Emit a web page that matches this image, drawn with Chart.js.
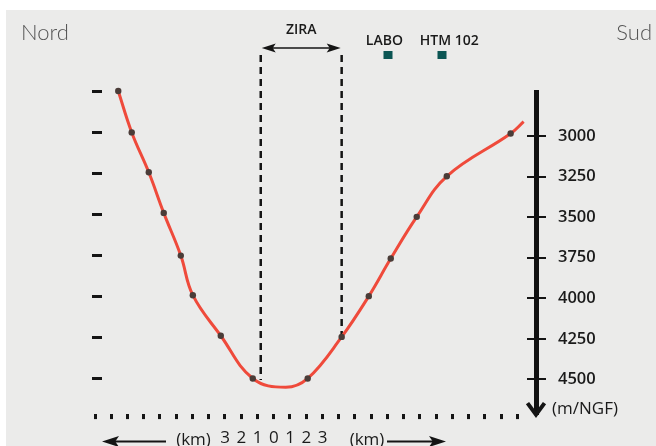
<!DOCTYPE html>
<html><head><meta charset="utf-8">
<script src="https://cdn.jsdelivr.net/npm/chart.js@4.4.0/dist/chart.umd.min.js"></script>
<style>html,body{margin:0;padding:0;background:#fff;overflow:hidden}#wrap{width:656px;height:446px;position:relative}</style>
</head><body><div id="wrap"><canvas id="c" width="656" height="446"></canvas></div>
<script>
// ---- data ----
const curveKm     = [-9.57, -8.74, -7.69, -6.77, -5.72, -4.98, -3.26, -1.29, 0.74, 2.09, 4.18, 5.85, 7.20, 8.80, 10.65, 14.58, 15.38];
const curveDepth  = [2753, 3005, 3248, 3495, 3755, 3996, 4243, 4503, 4557, 4503, 4250, 4002, 3773, 3519, 3272, 3012, 2940];
const curveMarked = [1, 1, 1, 1, 1, 1, 1, 1, 0, 1, 1, 1, 1, 1, 1, 1, 0];
const leftTickDepth  = [2750, 3000, 3250, 3500, 3750, 4000, 4250, 4500];
const rightTickDepth = [3000, 3250, 3500, 3750, 4000, 4250, 4500];
const depthUnit = '(m/NGF)';
const kmDots = [-11, -10, -9, -8, -7, -6, -5, -4, -3, -2, -1, 0, 1, 2, 3, 4, 5, 6, 7, 8, 9, 10, 11, 12, 13, 14, 15];
const kmLabelled = [-3, -2, -1, 0, 1, 2, 3];
const kmUnit = '(km)';
const ziraKm = [-0.8, 4.18];
const ziraBottomDepth = [4512, 4250];
const ziraLabel = 'ZIRA';
const siteNames = ['LABO', 'HTM 102'];
const siteKm = [7.02, 10.34];
const sideLabels = ['Nord', 'Sud'];

const LABEL_FONT = '"Open Sans", "Noto Sans", sans-serif';
const INK = '#1a1a1a';

function arrowHead(ctx, tipX, tipY, dir, len, half) {
  ctx.beginPath();
  ctx.moveTo(tipX, tipY);
  ctx.lineTo(tipX - dir * len, tipY - half);
  ctx.lineTo(tipX - dir * len * 0.78, tipY);
  ctx.lineTo(tipX - dir * len, tipY + half);
  ctx.closePath();
  ctx.fill();
}

const deco = {
  id: 'deco',
  beforeDraw(c) {
    const ctx = c.ctx;
    ctx.save();
    ctx.fillStyle = '#ffffff';
    ctx.fillRect(0, 0, c.width, c.height);
    ctx.fillStyle = '#ebebea';
    ctx.fillRect(6, 10, c.width - 6, c.height - 10);
    ctx.restore();
  },
  beforeDatasetsDraw(c) {
    const {ctx, chartArea: a, scales: {x, y, yR}} = c;
    ctx.save();
    ctx.strokeStyle = '#141414';
    ctx.fillStyle = '#141414';
    // ZIRA dashed bounds
    ctx.lineWidth = 2.5;
    ctx.setLineDash([7, 5]);
    ziraKm.forEach((k, i) => {
      const px = x.getPixelForValue(k);
      ctx.beginPath();
      ctx.moveTo(px, a.top - 37);
      ctx.lineTo(px, y.getPixelForValue(ziraBottomDepth[i]));
      ctx.stroke();
    });
    ctx.setLineDash([]);
    // ZIRA double arrow
    const zx0 = x.getPixelForValue(ziraKm[0]) + 1, zx1 = x.getPixelForValue(ziraKm[1]) - 1;
    const zy = a.top - 44;
    ctx.lineWidth = 1.6;
    ctx.beginPath(); ctx.moveTo(zx0 + 8, zy); ctx.lineTo(zx1 - 8, zy); ctx.stroke();
    arrowHead(ctx, zx0, zy, -1, 14, 4.5);
    arrowHead(ctx, zx1, zy, 1, 14, 4.5);
    // left tick dashes
    ctx.lineWidth = 3;
    leftTickDepth.forEach(d => {
      const py = Math.round(y.getPixelForValue(d)) + 0.5;
      ctx.beginPath(); ctx.moveTo(a.left - 3, py); ctx.lineTo(a.left + 7, py); ctx.stroke();
    });
    // right tick crosses
    ctx.lineWidth = 2;
    rightTickDepth.forEach(d => {
      const py = Math.round(yR.getPixelForValue(d));
      ctx.beginPath(); ctx.moveTo(a.right - 9, py); ctx.lineTo(a.right + 10, py); ctx.stroke();
    });
    // right axis arrow head
    ctx.lineWidth = 4;
    ctx.beginPath();
    ctx.moveTo(a.right - 8.5, a.bottom - 11);
    ctx.lineTo(a.right, a.bottom + 0.5);
    ctx.lineTo(a.right + 8.5, a.bottom - 11);
    ctx.stroke();
    // site markers
    ctx.fillStyle = '#0b5553';
    siteKm.forEach(k => {
      const px = Math.round(x.getPixelForValue(k));
      ctx.fillRect(px - 4.5, a.top - 41, 9, 8);
    });
    ctx.restore();
  },
  afterDraw(c) {
    const {ctx, chartArea: a, scales: {x}} = c;
    ctx.save();
    // Nord / Sud
    ctx.fillStyle = '#555555';
    ctx.font = '300 22px Lato, "Open Sans", sans-serif';
    ctx.textBaseline = 'alphabetic';
    ctx.textAlign = 'left';
    ctx.fillText(sideLabels[0], 21, 39.5);
    ctx.textAlign = 'right';
    ctx.fillText(sideLabels[1], 652, 39.5);
    // ZIRA
    ctx.fillStyle = INK;
    ctx.font = '600 14px ' + LABEL_FONT;
    ctx.textAlign = 'center';
    ctx.textBaseline = 'middle';
    ctx.fillText(ziraLabel, (x.getPixelForValue(ziraKm[0]) + x.getPixelForValue(ziraKm[1])) / 2, 30);
    // sites
    ctx.textAlign = 'left';
    siteNames.forEach((n, i) => {
      ctx.fillText(n, x.getPixelForValue(siteKm[i]) - 22, 41);
    });
    // depth unit
    ctx.font = '500 17px ' + LABEL_FONT;
    ctx.textAlign = 'left';
    ctx.fillText(depthUnit, a.right + 16, a.bottom - 5);
    // km units + arrows
    ctx.font = '500 17px ' + LABEL_FONT;
    ctx.textAlign = 'center';
    const ky = 440;
    ctx.fillText(kmUnit, 193.5, ky);
    ctx.fillText(kmUnit, 367, ky);
    ctx.strokeStyle = '#141414';
    ctx.fillStyle = '#141414';
    ctx.lineWidth = 2;
    ctx.beginPath(); ctx.moveTo(112, ky + 1.5); ctx.lineTo(166, ky + 1.5); ctx.stroke();
    arrowHead(ctx, 102, ky + 1.5, -1, 17, 5.5);
    ctx.beginPath(); ctx.moveTo(387, ky + 1.5); ctx.lineTo(436, ky + 1.5); ctx.stroke();
    arrowHead(ctx, 446, ky + 1.5, 1, 17, 5.5);
    ctx.restore();
  }
};

new Chart(document.getElementById('c'), {
  type: 'line',
  data: {
    datasets: [
      {
        data: curveKm.map((k, i) => ({x: k, y: curveDepth[i]})),
        borderColor: '#ef4a3b',
        borderWidth: 3,
        tension: 0.4,
        fill: false,
        pointRadius: curveMarked.map(m => m ? 3.2 : 0),
        pointBackgroundColor: '#4a3c38',
        pointBorderWidth: 0,
        clip: false,
        yAxisID: 'y'
      }
    ]
  },
  options: {
    responsive: false,
    animation: false,
    events: [],
    layout: {padding: {left: 95, top: 92, right: 0, bottom: 0}},
    plugins: {legend: {display: false}, tooltip: {enabled: false}},
    scales: {
      x: {
        type: 'linear', min: -11, max: 16.14,
        afterBuildTicks(s) { s.ticks = kmDots.map(v => ({value: v})); },
        afterFit(s) { s.height = 29; },
        grid: {drawOnChartArea: false, drawTicks: true, tickLength: 5, tickWidth: 3, tickColor: '#151515'},
        border: {display: false},
        ticks: {
          autoSkip: false, maxRotation: 0, padding: 9, color: INK,
          font: {family: LABEL_FONT, size: 17, weight: '500'},
          callback: v => kmLabelled.includes(v) ? String(Math.abs(v)) : ''
        }
      },
      y: {type: 'linear', display: false, reverse: true, min: 2759, max: 4720},
      yR: {
        type: 'linear', position: 'right', reverse: true, min: 2728, max: 4714,
        afterBuildTicks(s) { s.ticks = rightTickDepth.map(v => ({value: v})); },
        afterFit(s) { s.width = 120; },
        grid: {drawOnChartArea: false, drawTicks: false},
        border: {display: true, color: '#111', width: 5},
        ticks: {
          padding: 22, color: INK,
          font: {family: LABEL_FONT, size: 16.5, weight: '600'},
          callback: v => String(v)
        }
      }
    }
  },
  plugins: [deco]
});
</script></body></html>
